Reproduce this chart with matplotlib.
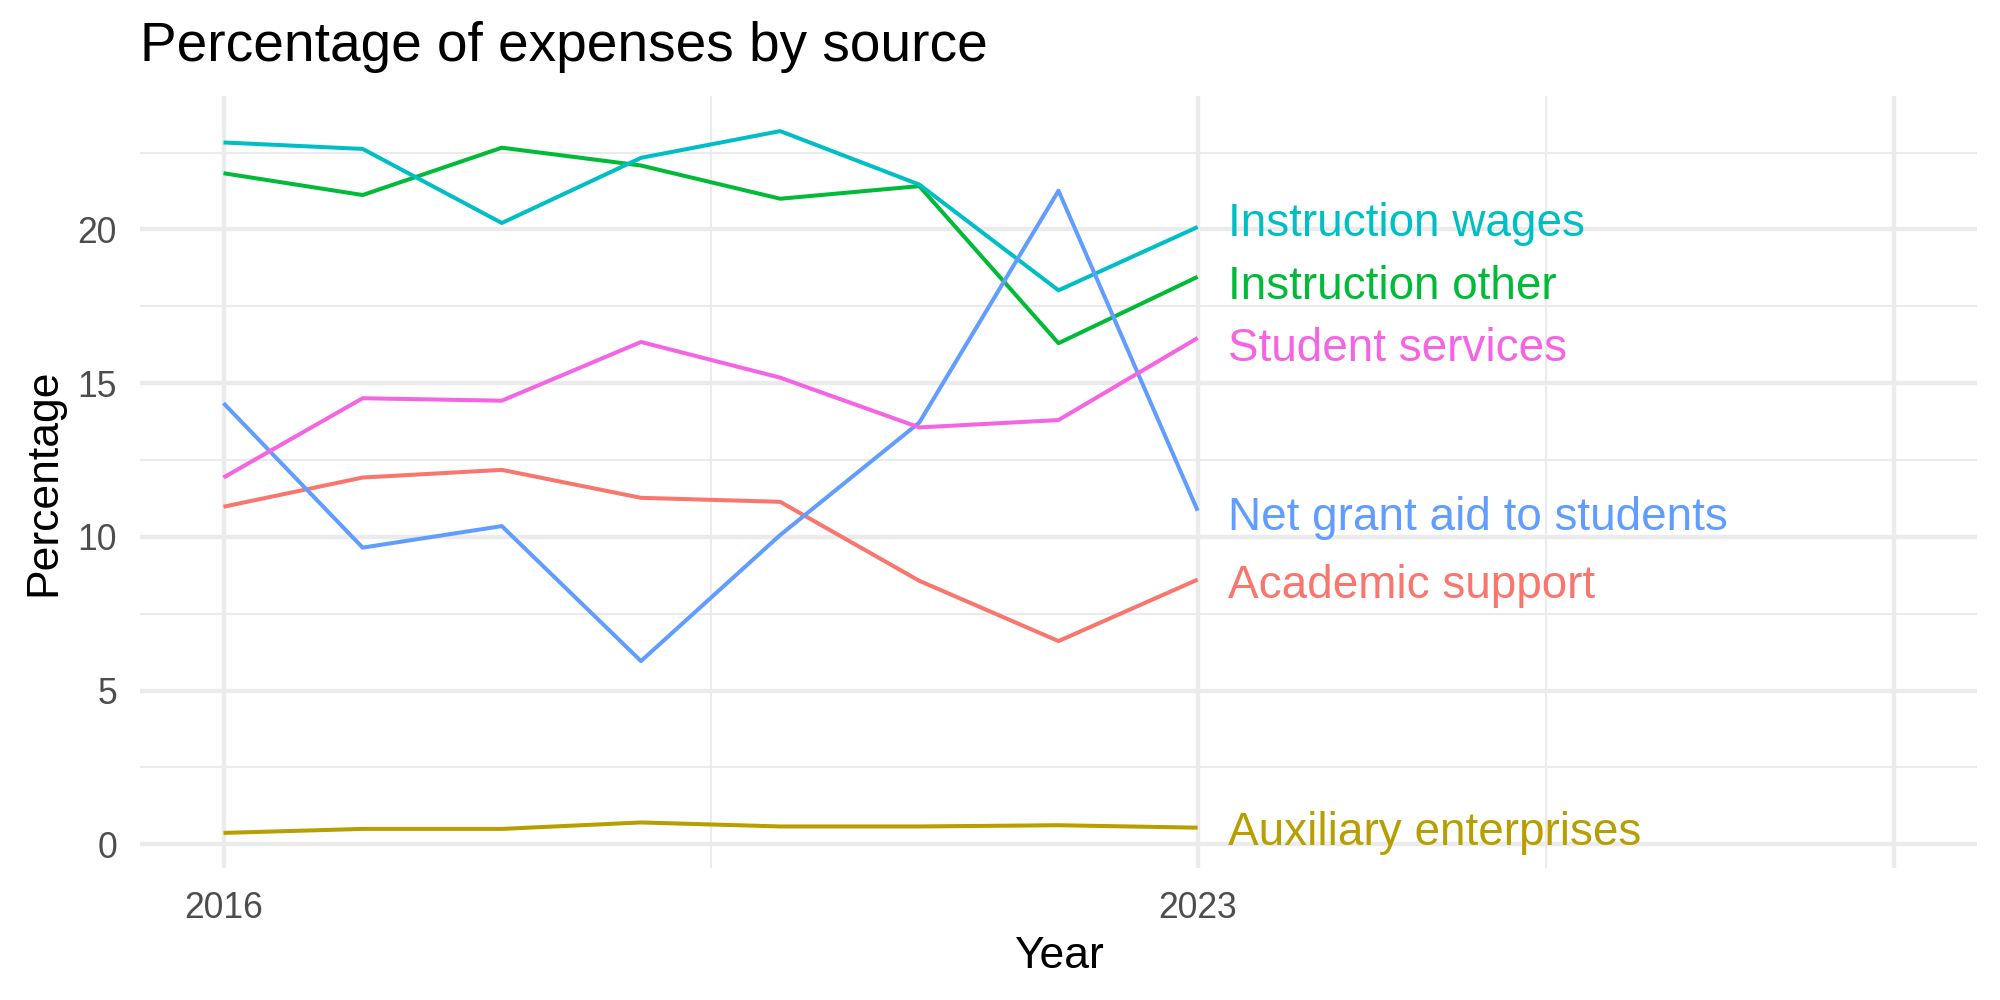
import matplotlib.pyplot as plt
import numpy as np

plt.switch_backend("Agg")
plt.rcParams["font.family"] = ["Liberation Sans", "DejaVu Sans"]

# Data
years = [2016, 2017, 2018, 2019, 2020, 2021, 2022, 2023]
academic_support = [10.98, 11.93, 12.18, 11.27, 11.14, 8.57, 6.61, 8.61]
auxiliary_enterprises = [0.37, 0.50, 0.50, 0.71, 0.58, 0.58, 0.62, 0.54]
instruction_other = [21.83, 21.12, 22.66, 22.08, 21.00, 21.41, 16.30, 18.46]
instruction_wages = [22.83, 22.62, 20.21, 22.33, 23.20, 21.46, 18.02, 20.08]
net_grant_aid = [14.35, 9.65, 10.35, 5.96, 10.06, 13.72, 21.26, 10.85]
student_services = [11.93, 14.51, 14.43, 16.34, 15.18, 13.56, 13.80, 16.47]

series_names = [
    "Academic support",
    "Auxiliary enterprises",
    "Instruction other",
    "Instruction wages",
    "Net grant aid to students",
    "Student services",
]
series_values = [
    academic_support,
    auxiliary_enterprises,
    instruction_other,
    instruction_wages,
    net_grant_aid,
    student_services,
]
# ggplot default hue palette
colors = ["#F8766D", "#B79F00", "#00BA38", "#00BFC4", "#619CFF", "#F564E3"]

x_breaks = [2016, 2023, 2028]
x_labels = ["2016", "2023", ""]
y_breaks = [0, 5, 10, 15, 20]

fig = plt.figure(figsize=(10, 5), dpi=200)
ax = fig.add_axes([0.07, 0.132, 0.9185, 0.772])

grid_color = "#EBEBEB"
text_grey = "#4D4D4D"

# Gridlines like theme_minimal
for xb in x_breaks:
    ax.axvline(xb, color=grid_color, linewidth=1.55, zorder=0)
for xm in [2019.5, 2025.5]:
    ax.axvline(xm, color=grid_color, linewidth=0.75, zorder=0)
for yb in y_breaks:
    ax.axhline(yb, color=grid_color, linewidth=1.55, zorder=0)
for ym in np.arange(2.5, 25, 5):
    ax.axhline(ym, color=grid_color, linewidth=0.75, zorder=0)

for name, vals, col in zip(series_names, series_values, colors):
    ax.plot(years, vals, color=col, linewidth=1.45, solid_capstyle="butt",
            solid_joinstyle="round", zorder=2)

# End labels, nudged a little as ggrepel did
label_nudge = {
    "Instruction wages": 0.27,
    "Instruction other": -0.16,
    "Student services": -0.21,
    "Net grant aid to students": -0.08,
    "Academic support": -0.04,
    "Auxiliary enterprises": 0.0,
}
for name, vals, col in zip(series_names, series_values, colors):
    ax.text(years[-1] + 0.22, vals[-1] + label_nudge[name], name, color=col,
            fontsize=16.5, ha="left", va="center_baseline", zorder=3)

all_vals = np.concatenate(series_values)
ymin, ymax = all_vals.min(), all_vals.max()
pad = 0.05 * (ymax - ymin)
ax.set_ylim(ymin - pad, ymax + pad)
ax.set_xlim(2016 - 0.05 * 12, 2028 + 0.05 * 12)

ax.set_xticks(x_breaks)
ax.set_xticklabels(x_labels)
ax.set_yticks(y_breaks)
ax.tick_params(axis="both", length=0, labelsize=12.8, labelcolor=text_grey, pad=8.3)

for spine in ax.spines.values():
    spine.set_visible(False)

ax.set_xlabel("Year", fontsize=16, labelpad=3.5)
ax.set_ylabel("Percentage", fontsize=16, labelpad=4.6)
fig.text(0.07, 0.953, "Percentage of expenses by source", fontsize=19.8,
         ha="left", va="center")

fig.savefig("out.png", dpi=200)
plt.close(fig)
